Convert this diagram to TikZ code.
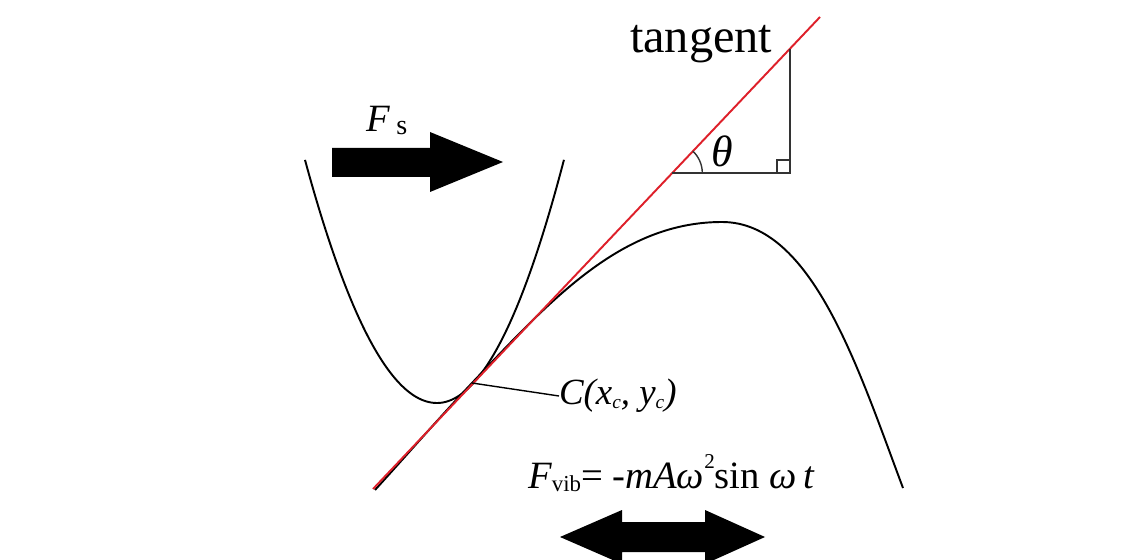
\documentclass[tikz,border=0pt]{standalone}
\usepackage{fontspec}
\setmainfont{Liberation Serif}
\usepackage{tikz}
\usetikzlibrary{arrows, positioning, calc}
\definecolor{tanred}{RGB}{222,32,42}

\begin{document}
\begin{tikzpicture}[x=0.02cm, y=-0.02cm,%
  curve/.style={line width=1.1pt, draw=black},%
  tangentline/.style={line width=1.1pt, draw=tanred},%
  guide/.style={line width=0.8pt, draw=black!80},%
  leader/.style={line width=0.8pt, draw=black},%
  forcearrow/.style={fill=black, draw=none},%
  lbl/.style={inner sep=0pt, outer sep=0pt}%
]
  \useasboundingbox (0,0) rectangle (1143,560);
  \fill[white] (0,0) rectangle (1143,560);
  % Punto de contacto y tangente
  \coordinate (C) at (472,383);
  \coordinate (tanlo) at (373,489);
  \coordinate (tanhi) at (820,17);
  % Parabola
  \draw[curve] plot[domain=-1.32:0, samples=60, smooth] ({437+100*\x}, {403-139.5*\x*\x})
    -- plot[domain=0:1.27, samples=60, smooth] ({437+100*\x}, {403-150.9*\x*\x});
  % Curva cubica
  \draw[curve] (375,490) .. controls (405,457) and (442,414.7) .. (C)
    .. controls (552,298.5) and (622,222) .. (722,222)
    .. controls (812,222) and (858,368) .. (903,488);
  % Tangente
  \draw[tangentline] (tanlo) -- (tanhi);
  % Triangulo
  \coordinate (base) at (672.3,173);
  \coordinate (corner) at (790,173);
  \coordinate (top) at (790,48.7);
  \draw[guide] (base) -- (corner) -- (top);
  \draw[guide] ($(corner)+(-13,0)$) -- ($(corner)+(-13,-13)$) -- ($(corner)+(0,-13)$);
  \draw[guide] ($(base)+(30,0)$) arc[start angle=0, end angle=-46.6, radius=30];
  \node[lbl, anchor=base west, font=\fontsize{27.5}{30}\selectfont] (tangent) at (630,53) {tangent};
  \node[lbl, font=\fontsize{25}{28}\selectfont\itshape] (theta) at (722,151) {θ};
  % Fuerzas
  \fill[forcearrow] (332,148) -- (430,148) -- (430,132) -- (503,162) -- (430,192) -- (430,177) -- (332,177) -- cycle;
  \node[lbl, anchor=base west, font=\fontsize{22}{25}\selectfont] (fs) at (366,132) {\textit{F}\,\raisebox{-1.5pt}{\fontsize{16}{18}\selectfont s}};
  \node[lbl, anchor=west, font=\fontsize{21}{24}\selectfont\itshape] (clabel) at (559,396) {C(x\raisebox{-2pt}{\fontsize{11}{12}\selectfont c}, y\raisebox{-2pt}{\fontsize{11}{12}\selectfont c})};
  \draw[leader] (C) -- (clabel.west);
  \node[lbl, anchor=base west, font=\fontsize{22}{25}\selectfont] (fvib) at (528,488) {\textit{F}\raisebox{-2pt}{\fontsize{13}{14}\selectfont vib}= -\textit{mAω}\raisebox{11pt}{\fontsize{12}{13}\selectfont 2}sin \textit{ω}\,\textit{t}};
  \fill[forcearrow] (560,537) -- (622,510) -- (622,522) -- (705,522) -- (705,510) -- (765,537)
    -- (705,564) -- (705,552) -- (622,552) -- (622,564) -- cycle;
\end{tikzpicture}
\end{document}
